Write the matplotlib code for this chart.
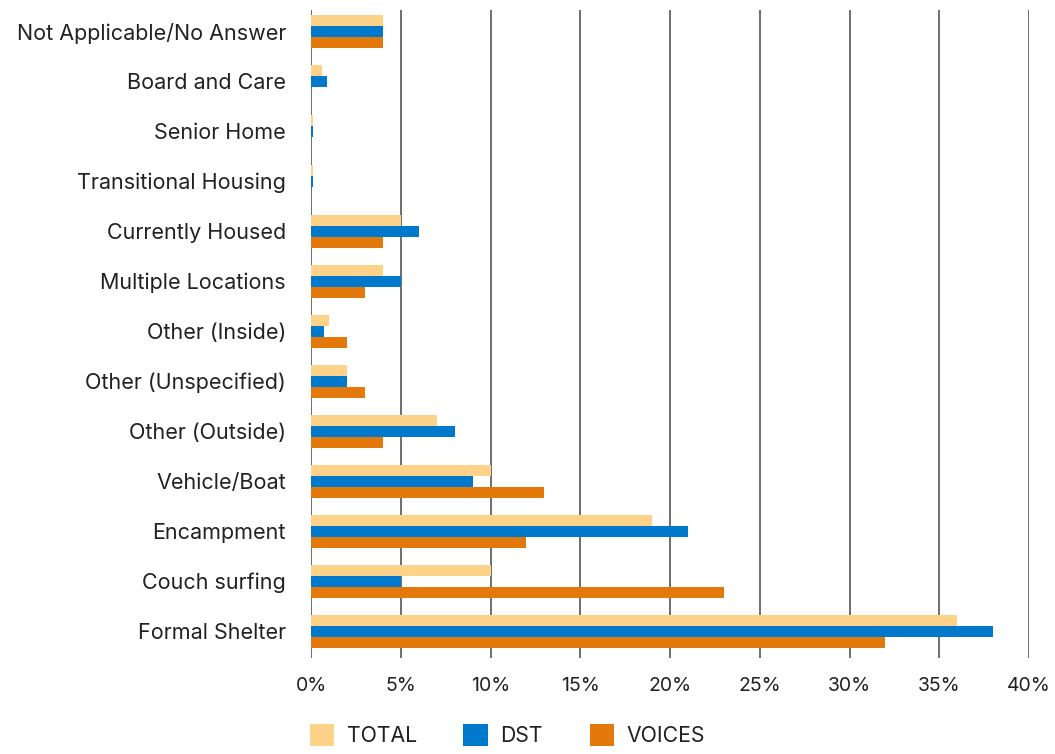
import matplotlib.pyplot as plt
import numpy as np

plt.rcParams['font.family'] = ['Inter', 'DejaVu Sans']

# data, bottom to top as drawn
categories = ['Formal Shelter', 'Couch surfing', 'Encampment', 'Vehicle/Boat',
              'Other (Outside)', 'Other (Unspecified)', 'Other (Inside)',
              'Multiple Locations', 'Currently Housed', 'Transitional Housing',
              'Senior Home', 'Board and Care', 'Not Applicable/No Answer']
total = [36, 10, 19, 10, 7, 2, 1, 4, 5, 0.1, 0.1, 0.6, 4]
dst = [38, 5, 21, 9, 8, 2, 0.7, 5, 6, 0.1, 0.1, 0.9, 4]
voices = [32, 23, 12, 13, 4, 3, 2, 3, 4, 0, 0, 0, 4]
xticks = [0, 5, 10, 15, 20, 25, 30, 35, 40]

fig = plt.figure(figsize=(10.55, 7.54), dpi=100)
ax = fig.add_axes([0.2948, 0.1273, 0.6806, 0.8594])

y = np.arange(len(categories))
h = 0.22
ax.barh(y + h, total, height=h, color='#FFD28A', label='TOTAL', zorder=3)
ax.barh(y, dst, height=h, color='#0078CC', label='DST', zorder=3)
ax.barh(y - h, voices, height=h, color='#E2790A', label='VOICES', zorder=3)

ax.set_xlim(0, 40)
ax.set_ylim(-0.54, 12.42)
ax.set_xticks(xticks)
ax.set_xticklabels([f'{t}%' for t in xticks])
ax.set_yticks(y)
ax.set_yticklabels(categories)
ax.tick_params(axis='both', length=0, colors='#222222')
ax.tick_params(axis='x', pad=14, labelsize=14)
ax.tick_params(axis='y', pad=18, labelsize=15.5)

for s in ax.spines.values():
    s.set_visible(False)
ax.grid(axis='x', color='#555555', linewidth=1.2, zorder=0)
ax.set_axisbelow(True)

fig.legend(loc='lower left', bbox_to_anchor=(0.2796, -0.0094), ncol=3, frameon=False,
           fontsize=15.3, handlelength=1.13, handleheight=1.25, columnspacing=2.2,
           handletextpad=0.6, borderpad=0.2, labelcolor='#222222')

fig.savefig('out.png', dpi=100)
